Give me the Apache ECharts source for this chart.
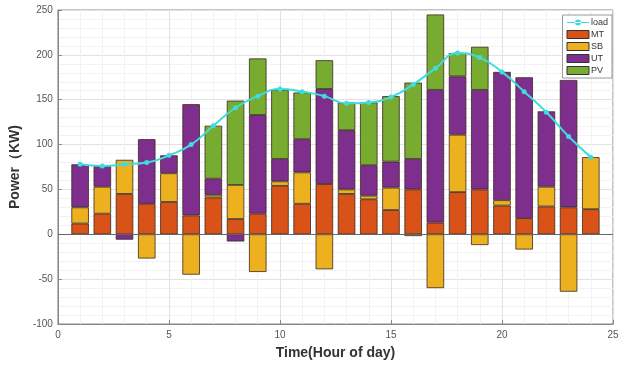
<!DOCTYPE html>
<html>
<head>
<meta charset="utf-8">
<script src="https://cdn.jsdelivr.net/npm/echarts@6/dist/echarts.min.js"></script>
<style>
  html, body { margin: 0; padding: 0; background: #fff; }
  #chart { width: 627px; height: 365px; }
</style>
</head>
<body>
<div id="chart"></div>
<script>
// x axis runs 0..25, bars sit on hours 1..24
var xTicks = ['0', '1', '2', '3', '4', '5', '6', '7', '8', '9', '10', '11', '12', '13', '14', '15', '16', '17', '18', '19', '20', '21', '22', '23', '24', '25'];
// power per source (KW), hour 1..24
var mtData = [12, 23, 45, 34, 36, 21, 41, 17, 23, 54, 34, 56, 45, 39, 27, 50, 13, 47, 50, 32, 18, 31, 30, 28];
var sbData = [18, 30, 38, -27, 32, -45, 3, 38, -42, 5, 35, -39, 5, 4, 25, -2, -60, 64, -12, 6, -17, 22, -64, 58];
var utData = [48, 23, -6, 72, 20, 124, 18, -8, 110, 25, 37, 106, 66, 34, 29, 34, 148, 65, 111, 143, 157, 84, 142, 0];
var pvData = [0, 0, 0, 0, 0, 0, 59, 94, 63, 77, 52, 32, 31, 70, 73, 85, 84, 26, 48, 0, 0, 0, 0, 0];
var loadData = [78, 76, 78, 80, 88, 100, 121, 141, 154, 162, 159, 154, 146, 147, 153, 167, 185, 202, 197, 181, 159, 136, 109, 86];

// pad to the 0..25 categories, zeros become empty
function pad(arr) {
  var out = ['-'];
  arr.forEach(function (v) { out.push(v === 0 ? '-' : v); });
  out.push('-');
  return out;
}

function barSeries(name, arr, color) {
  return {
    name: name,
    type: 'bar',
    stack: 'power',
    barWidth: 17.5,
    data: pad(arr),
    itemStyle: { color: color, borderColor: '#3a2a20', borderWidth: 0.8 }
  };
}

var chart = echarts.init(document.getElementById('chart'));
var option = {
  animation: false,
  textStyle: { fontFamily: 'Liberation Sans, Arial, sans-serif' },
  grid: { left: 56, right: 14, top: 10, bottom: 38, show: true, borderColor: '#888', borderWidth: 1 },
  legend: {
    orient: 'vertical',
    right: 15,
    top: 15,
    itemWidth: 22,
    itemHeight: 8,
    itemGap: 3,
    padding: [3, 4, 3, 4],
    borderColor: '#999',
    borderWidth: 1,
    backgroundColor: '#fff',
    textStyle: { fontSize: 9, color: '#333', padding: [0, 0, 0, -3] },
    data: [
      { name: 'load', icon: 'path://M0,3.4 L22,3.4 L22,4.6 L0,4.6 Z M8,4 A3,3 0 1,0 14,4 A3,3 0 1,0 8,4 Z' },
      { name: 'MT', icon: 'rect', itemStyle: { borderColor: '#333', borderWidth: 1 } },
      { name: 'SB', icon: 'rect', itemStyle: { borderColor: '#333', borderWidth: 1 } },
      { name: 'UT', icon: 'rect', itemStyle: { borderColor: '#333', borderWidth: 1 } },
      { name: 'PV', icon: 'rect', itemStyle: { borderColor: '#333', borderWidth: 1 } }
    ]
  },
  xAxis: [
    {
      type: 'category',
      data: xTicks,
      boundaryGap: false,
      name: 'Time(Hour of day)',
      nameLocation: 'middle',
      nameGap: 22,
      nameTextStyle: { fontSize: 14, fontWeight: 'bold', color: '#333' },
      axisLine: { show: true, onZero: false, lineStyle: { color: '#888' } },
      axisTick: { show: true, inside: true, length: 4, interval: 4, lineStyle: { color: '#888' } },
      axisLabel: { fontSize: 10, color: '#555', margin: 6, interval: 4 },
      splitLine: { show: false }
    },
    {
      // only used for the grid lines
      type: 'value',
      min: 0,
      max: 25,
      interval: 5,
      position: 'bottom',
      axisLine: { show: false },
      axisTick: { show: false },
      axisLabel: { show: false },
      splitLine: { show: true, lineStyle: { color: '#e2e2e2' } },
      minorTick: { show: false, splitNumber: 5 },
      minorSplitLine: { show: true, lineStyle: { color: '#f2f2f2' } }
    }
  ],
  yAxis: {
    type: 'value',
    min: -100,
    max: 250,
    interval: 50,
    name: 'Power（KW)',
    nameLocation: 'middle',
    nameGap: 32,
    nameTextStyle: { fontSize: 14, fontWeight: 'bold', color: '#333' },
    axisLine: { show: true, lineStyle: { color: '#888' } },
    axisTick: { show: true, inside: true, length: 4, lineStyle: { color: '#888' } },
    axisLabel: { fontSize: 10, color: '#555', margin: 5 },
    splitLine: { show: true, lineStyle: { color: '#e2e2e2' } },
    minorTick: { show: false, splitNumber: 5 },
    minorSplitLine: { show: true, lineStyle: { color: '#f2f2f2' } }
  },
  series: [
    {
      name: 'load',
      type: 'line',
      smooth: true,
      z: 5,
      data: ['-'].concat(loadData),
      symbol: 'circle',
      symbolSize: 5,
      lineStyle: { color: '#3fdcdc', width: 2 },
      itemStyle: { color: '#3fdcdc' }
    },
    (function () {
      var s = barSeries('MT', mtData, '#d95319');
      s.markLine = {
        silent: true,
        symbol: 'none',
        label: { show: false },
        lineStyle: { color: '#666', width: 1, type: 'solid' },
        data: [{ yAxis: 0 }]
      };
      return s;
    })(),
    barSeries('SB', sbData, '#edb120'),
    barSeries('UT', utData, '#7e2f8e'),
    barSeries('PV', pvData, '#77ac30')
  ]
};
chart.setOption(option);
</script>
</body>
</html>
